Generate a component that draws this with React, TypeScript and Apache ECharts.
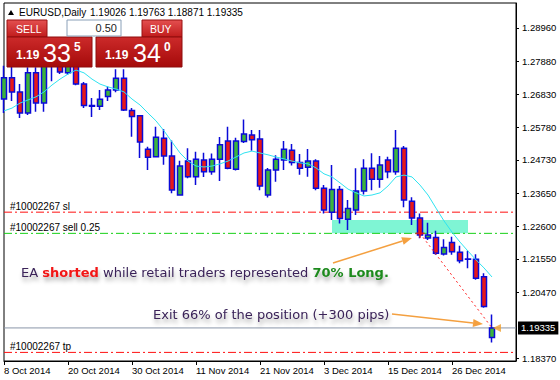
import React, { useEffect, useRef } from 'react';
import * as echarts from 'echarts';

const dates = [
  '8 Oct 2014', '9 Oct 2014', '10 Oct 2014', '13 Oct 2014', '14 Oct 2014', '15 Oct 2014', '16 Oct 2014', '17 Oct 2014',
  '20 Oct 2014', '21 Oct 2014', '22 Oct 2014', '23 Oct 2014', '24 Oct 2014', '27 Oct 2014', '28 Oct 2014', '29 Oct 2014',
  '30 Oct 2014', '31 Oct 2014', '3 Nov 2014', '4 Nov 2014', '5 Nov 2014', '6 Nov 2014', '7 Nov 2014', '10 Nov 2014',
  '11 Nov 2014', '12 Nov 2014', '13 Nov 2014', '14 Nov 2014', '17 Nov 2014', '18 Nov 2014', '19 Nov 2014', '20 Nov 2014',
  '21 Nov 2014', '24 Nov 2014', '25 Nov 2014', '26 Nov 2014', '27 Nov 2014', '28 Nov 2014', '1 Dec 2014', '2 Dec 2014',
  '3 Dec 2014', '4 Dec 2014', '5 Dec 2014', '8 Dec 2014', '9 Dec 2014', '10 Dec 2014', '11 Dec 2014', '12 Dec 2014',
  '15 Dec 2014', '16 Dec 2014', '17 Dec 2014', '18 Dec 2014', '19 Dec 2014', '22 Dec 2014', '23 Dec 2014', '24 Dec 2014',
  '26 Dec 2014', '29 Dec 2014', '30 Dec 2014', '31 Dec 2014', '2 Jan 2015', '5 Jan 2015',
  '6 Jan 2015', '7 Jan 2015', '8 Jan 2015',
];

const opens = [
  1.2668, 1.2736, 1.2691, 1.2623, 1.2752, 1.2655, 1.2815, 1.2809, 1.2752, 1.2800,
  1.2716, 1.2647, 1.2645, 1.2676, 1.2697, 1.2735, 1.2631, 1.2614, 1.2507, 1.2483,
  1.2542, 1.2485, 1.2360, 1.2469, 1.2419, 1.2472, 1.2435, 1.2475, 1.2533, 1.2443,
  1.2532, 1.2553, 1.2540, 1.2360, 1.2440, 1.2472, 1.2504, 1.2464, 1.2449, 1.2469,
  1.2382, 1.2305, 1.2378, 1.2282, 1.2312, 1.2373, 1.2446, 1.2411, 1.2472, 1.2435,
  1.2510, 1.2340, 1.2286, 1.2222, 1.2224, 1.2171, 1.2208, 1.2176, 1.2155, 1.2154,
  1.2098, 1.19026,
];
const closes = [
  1.2736, 1.2691, 1.2623, 1.2752, 1.2655, 1.2815, 1.2809, 1.2755, 1.2800, 1.2716,
  1.2647, 1.2645, 1.2667, 1.2697, 1.2735, 1.2633, 1.2612, 1.2530, 1.2481, 1.2545,
  1.2485, 1.2376, 1.2453, 1.2419, 1.2475, 1.2435, 1.2475, 1.2521, 1.2446, 1.2533,
  1.2556, 1.2537, 1.2389, 1.2440, 1.2475, 1.2507, 1.2464, 1.2446, 1.2469, 1.2382,
  1.2312, 1.2378, 1.2285, 1.2317, 1.2373, 1.2446, 1.2411, 1.2456, 1.2435, 1.2510,
  1.2344, 1.2286, 1.2232, 1.2232, 1.2173, 1.2192, 1.2178, 1.2149, 1.2154, 1.2093,
  1.2002, 1.19335,
];
const lows = [
  1.2623, 1.2662, 1.2607, 1.2617, 1.2627, 1.2627, 1.2725, 1.2748, 1.2745, 1.2712,
  1.2639, 1.2610, 1.2633, 1.2662, 1.2690, 1.2630, 1.2547, 1.2479, 1.2440, 1.2481,
  1.2457, 1.2366, 1.2358, 1.2414, 1.2392, 1.2418, 1.2425, 1.2405, 1.2443, 1.2439,
  1.2527, 1.2502, 1.2375, 1.2352, 1.2403, 1.2440, 1.2455, 1.2425, 1.2419, 1.2375,
  1.2301, 1.2280, 1.2269, 1.2248, 1.2296, 1.2362, 1.2375, 1.2383, 1.2414, 1.2425,
  1.2321, 1.2264, 1.2221, 1.2216, 1.2168, 1.2166, 1.2168, 1.2141, 1.2125, 1.2088,
  1.1998, 1.18871,
];
const highs = [
  1.2775, 1.2791, 1.2716, 1.2770, 1.2770, 1.2887, 1.2845, 1.2825, 1.2836, 1.2812,
  1.2723, 1.2671, 1.2697, 1.2708, 1.2764, 1.2764, 1.2639, 1.2617, 1.2515, 1.2579,
  1.2572, 1.2535, 1.2470, 1.2510, 1.2499, 1.2496, 1.2493, 1.2546, 1.2579, 1.2544,
  1.2602, 1.2569, 1.2569, 1.2447, 1.2488, 1.2533, 1.2524, 1.2492, 1.2508, 1.2475,
  1.2392, 1.2456, 1.2389, 1.2344, 1.2446, 1.2475, 1.2494, 1.2485, 1.2483, 1.2569,
  1.2517, 1.2353, 1.2301, 1.2271, 1.2245, 1.2218, 1.2226, 1.2197, 1.2181, 1.2170,
  1.2109, 1.19763,
];
const maLine = [
  1.2630, 1.2639, 1.2655, 1.2665, 1.2675, 1.2691, 1.2713, 1.2732, 1.2748, 1.2761,
  1.2752, 1.2732, 1.2716, 1.2707, 1.2700, 1.2691, 1.2668, 1.2649, 1.2623, 1.2598,
  1.2566, 1.2530, 1.2495, 1.2469, 1.2453, 1.2450, 1.2453, 1.2460, 1.2469, 1.2482,
  1.2495, 1.2501, 1.2495, 1.2489, 1.2482, 1.2476, 1.2469, 1.2463, 1.2460, 1.2447,
  1.2428, 1.2418, 1.2399, 1.2379, 1.2367, 1.2357, 1.2360, 1.2367, 1.2389, 1.2418,
  1.2424, 1.2418, 1.2392, 1.2360, 1.2318, 1.2277, 1.2241, 1.2209, 1.2180, 1.2152,
  1.2126, 1.2097,
];

const yTicks = [1.1837, 1.2047, 1.2155, 1.226, 1.2365, 1.2473, 1.2578, 1.2683, 1.2788, 1.2896];
const yMin = 1.18274;
const yMax = 1.29762;

const ticketNo = '#10002267';
const slPrice = 1.2305;
const entryPrice = 1.2237;
const tpPrice = 1.1855;
const lastPrice = 1.19335;
const entryIdx = 52;
const exitIdx = 61;
const zoneFrom = [41, 1.228];
const zoneTo = [58, 1.2237];

const headerSymbol = 'EURUSD,Daily';
const headerOHLC = '1.19026 1.19763 1.18871 1.19335';
const sellQuote = ['1.19', '33', '5'];
const buyQuote = ['1.19', '34', '0'];
const lotSize = '0.50';

const note1 = ['EA ', 'shorted', ' while retail traders represented ', '70% Long.'];
const note2 = 'Exit 66% of the position (+300 pips)';

const LS = '"Liberation Sans", Arial, sans-serif';
const DV = '"DejaVu Sans", Verdana, sans-serif';

function arrow(x1: number, y1: number, x2: number, y2: number, color: string) {
  const dx = x2 - x1;
  const dy = y2 - y1;
  const len = Math.hypot(dx, dy);
  const ux = dx / len;
  const uy = dy / len;
  const L = 10;
  const W = 4;
  const bx = x2 - ux * L;
  const by = y2 - uy * L;
  return [
    { type: 'line', z: 100, shape: { x1, y1, x2: bx, y2: by }, style: { stroke: color, lineWidth: 1.5 } },
    {
      type: 'polygon', z: 100,
      shape: { points: [[x2, y2], [bx - uy * W, by + ux * W], [bx + uy * W, by - ux * W]] },
      style: { fill: color },
    },
  ];
}

function txt(x: number, y: number, text: string, font: string, fill: string, align = 'left') {
  return {
    type: 'text', z: 101, x, y,
    style: { text, font, fill, align, textAlign: align, verticalAlign: 'middle', textVerticalAlign: 'middle' },
  };
}

export default function App() {
  const ref = useRef<HTMLDivElement>(null);

  useEffect(() => {
    document.body.style.margin = '0';
    if (!ref.current) return;
    const chart = echarts.init(ref.current, undefined, { renderer: 'svg' });

    const candles = opens.map((o, i) => [o, closes[i], lows[i], highs[i]]);
    const lastSlot = dates.length - 1;
    const labelEvery = (index: number) => index % 8 === 0 && index < opens.length;

    const dashDot = [8, 3, 2, 3];

    const level = (price: number, color: string, dash: any, text: string) => ({
      type: 'line',
      z: 6,
      symbol: 'rect',
      symbolSize: 0,
      showSymbol: true,
      silent: true,
      lineStyle: { color, type: dash, width: 1 },
      itemStyle: { color, opacity: 1 },
      data: [
        {
          value: [0, price],
          label: {
            show: true, position: 'top', align: 'left', offset: [6, 1], distance: 2,
            formatter: text, color: '#000', fontFamily: LS, fontSize: 10,
          },
        },
        [lastSlot, price],
      ],
    });

    const tabGrad = new echarts.graphic.LinearGradient(0, 0, 0, 1, [
      { offset: 0, color: '#e45050' },
      { offset: 1, color: '#c01c1c' },
    ]);
    const boxGrad = new echarts.graphic.LinearGradient(0, 0, 0, 1, [
      { offset: 0, color: '#cc2a2a' },
      { offset: 1, color: '#a50a0a' },
    ]);

    const shadow = {
      textShadowColor: 'rgba(0,0,0,0.35)',
      textShadowBlur: 4,
      textShadowOffsetX: 1,
      textShadowOffsetY: 4,
    };
    const purple = '#3a2358';

    const graphic: any[] = [
      { type: 'polygon', z: 100, shape: { points: [[8, 15], [14, 15], [11, 10]] }, style: { fill: '#000' } },
      txt(19, 12, headerSymbol, `10px ${LS}`, '#000'),
      txt(90, 12, headerOHLC, `10px ${LS}`, '#000'),
      { type: 'rect', z: 100, shape: { x: 7, y: 20, width: 40, height: 17 }, style: { fill: tabGrad, stroke: '#9a1010', lineWidth: 1 } },
      { type: 'rect', z: 100, shape: { x: 7, y: 37, width: 85, height: 30 }, style: { fill: boxGrad, stroke: '#8e0c0c', lineWidth: 1 } },
      { type: 'rect', z: 100, shape: { x: 142, y: 20, width: 40, height: 17 }, style: { fill: tabGrad, stroke: '#9a1010', lineWidth: 1 } },
      { type: 'rect', z: 100, shape: { x: 96, y: 37, width: 86, height: 30 }, style: { fill: boxGrad, stroke: '#8e0c0c', lineWidth: 1 } },
      { type: 'rect', z: 100, shape: { x: 67, y: 20, width: 54, height: 16 }, style: { fill: '#fff', stroke: '#8aa0b8', lineWidth: 1 } },
      txt(16, 29, 'SELL', `10.5px ${LS}`, '#fff'),
      txt(150, 29, 'BUY', `10.5px ${LS}`, '#fff'),
      txt(117, 28, lotSize, `11px ${LS}`, '#222', 'right'),
      txt(16, 55, sellQuote[0], `bold 12px ${LS}`, '#fff'),
      txt(43, 53, sellQuote[1], `25px ${LS}`, '#fff'),
      txt(74, 47, sellQuote[2], `bold 12px ${LS}`, '#fff'),
      txt(105, 55, buyQuote[0], `bold 12px ${LS}`, '#fff'),
      txt(133, 53, buyQuote[1], `25px ${LS}`, '#fff'),
      txt(164, 47, buyQuote[2], `bold 12px ${LS}`, '#fff'),
      {
        type: 'text', z: 101, x: 21, y: 272,
        style: {
          text: `{n|${note1[0]}}{r|${note1[1]}}{n|${note1[2]}}{g|${note1[3]}}`,
          verticalAlign: 'middle', textVerticalAlign: 'middle',
          rich: {
            n: { font: `13px ${DV}`, fontFamily: DV, fontSize: 13, fill: purple, color: purple, ...shadow },
            r: { font: `bold 13px ${DV}`, fontFamily: DV, fontSize: 13, fontWeight: 'bold', fill: '#f21414', color: '#f21414', ...shadow },
            g: { font: `bold 13px ${DV}`, fontFamily: DV, fontSize: 13, fontWeight: 'bold', fill: '#1f8a1f', color: '#1f8a1f', ...shadow },
          },
        },
      },
      {
        type: 'text', z: 101, x: 153, y: 314,
        style: {
          text: note2, font: `13px ${DV}`, fill: purple,
          verticalAlign: 'middle', textVerticalAlign: 'middle', ...shadow,
        },
      },
      ...arrow(333, 263, 412, 238, '#f4a040'),
      ...arrow(392, 314, 483, 324, '#f4a040'),
    ];

    chart.setOption({
      animation: false,
      backgroundColor: '#fff',
      grid: { left: 4, right: 44, top: 3, bottom: 19, show: true, borderColor: '#000', borderWidth: 1, backgroundColor: '#fff' },
      xAxis: {
        type: 'category',
        data: dates,
        boundaryGap: false,
        axisLine: { show: true, lineStyle: { color: '#000' } },
        axisTick: { show: true, interval: labelEvery, length: 4, lineStyle: { color: '#000' } },
        axisLabel: { interval: labelEvery, align: 'left', margin: 4, fontFamily: LS, fontSize: 9.5, color: '#000' },
        splitLine: { show: false },
      },
      yAxis: {
        type: 'value',
        position: 'right',
        min: yMin,
        max: yMax,
        axisLine: { show: true, lineStyle: { color: '#000' } },
        axisTick: { show: true, customValues: yTicks, length: 3, lineStyle: { color: '#000' } },
        axisLabel: {
          customValues: yTicks,
          formatter: (v: number) => v.toFixed(5),
          margin: 6, fontFamily: LS, fontSize: 9.5, color: '#000',
        },
        splitLine: { show: false },
      },
      graphic,
      series: [
        {
          type: 'line',
          data: [],
          z: 0,
          markArea: {
            silent: true,
            z: 0,
            itemStyle: { color: '#7ff5d4' },
            data: [[{ coord: zoneFrom }, { coord: zoneTo }]],
          },
        },
        level(slPrice, '#ff1010', dashDot, `${ticketNo} sl`),
        level(entryPrice, '#16d016', dashDot, `${ticketNo} sell 0.25`),
        level(tpPrice, '#ff1010', dashDot, `${ticketNo} tp`),
        {
          type: 'line',
          z: 6,
          symbol: 'rect',
          symbolSize: 0,
          showSymbol: true,
          silent: true,
          lineStyle: { color: '#8a96a8', type: 'solid', width: 1 },
          itemStyle: { color: '#8a96a8' },
          data: [
            [0, lastPrice],
            {
              value: [lastSlot, lastPrice],
              label: {
                show: true, position: 'right', distance: 2, formatter: lastPrice.toFixed(5),
                backgroundColor: '#000', color: '#fff', fontFamily: LS, fontSize: 9.5, padding: [2, 3, 1, 3],
              },
            },
          ],
        },
        {
          type: 'candlestick',
          data: candles,
          barWidth: 5,
          z: 7,
          itemStyle: {
            color: '#3cb43c',
            color0: '#e81818',
            borderColor: '#0a0ad8',
            borderColor0: '#0a0ad8',
            borderWidth: 1.5,
          },
        },
        {
          type: 'line',
          z: 8,
          symbol: 'none',
          showSymbol: false,
          silent: true,
          lineStyle: { color: '#ff2020', type: [2, 3], width: 1 },
          data: [[entryIdx, entryPrice], [exitIdx, lastPrice]],
        },
        {
          type: 'line',
          data: maLine,
          showSymbol: false,
          symbol: 'none',
          z: 8,
          lineStyle: { color: '#2fe3f0', width: 1 },
        },
        {
          type: 'scatter',
          z: 9,
          data: [[entryIdx, entryPrice]],
          symbol: 'path://M0,4L10,4L10,6L0,6Z M4,0L6,0L6,10L4,10Z',
          symbolSize: 9,
          itemStyle: { color: '#ee1111' },
        },
        {
          type: 'scatter',
          z: 9,
          data: [[exitIdx, lastPrice]],
          symbol: 'triangle',
          symbolRotate: 90,
          symbolSize: 8,
          symbolOffset: [5, 0],
          itemStyle: { color: '#f0a030' },
        },
      ],
    });

    return () => chart.dispose();
  }, []);

  return <div ref={ref} style={{ width: 560, height: 380 }} />;
}
